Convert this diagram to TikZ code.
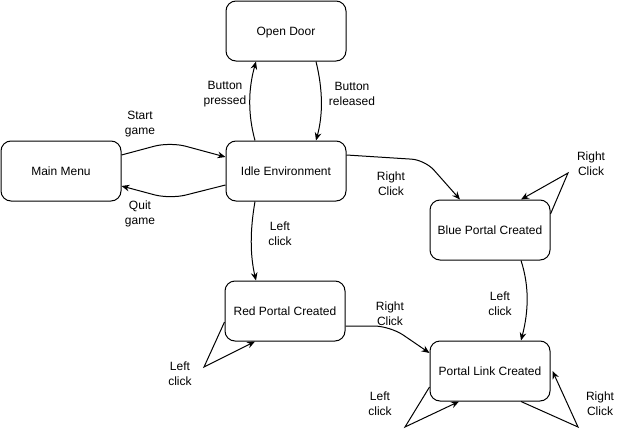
\documentclass[tikz,border=0pt]{standalone}
\usepackage{fontspec}
\setmainfont{Liberation Sans}
\usetikzlibrary{arrows.meta,calc}
\begin{document}
\begin{tikzpicture}[x=0.75pt,y=-0.75pt,
  state/.style={draw, line width=0.75pt, rounded corners=7.5pt, minimum width=90pt, minimum height=45pt, inner sep=0pt, text height=6.5pt, text depth=0.5pt, font=\fontsize{9pt}{11pt}\selectfont},
  lbl/.style={align=center, inner sep=0pt, yshift=-1.5pt, font=\fontsize{9pt}{11.25pt}\selectfont},
  arr/.style={draw, line width=0.75pt, -{Stealth[length=6pt,width=5pt,inset=2pt]}}]
\useasboundingbox (0,0) rectangle (621,439);
\node[state] (opendoor) at (286,31) {Open Door};
\node[state] (main) at (61,171) {Main Menu};
\node[state] (idle) at (286,171) {Idle Environment};
\node[state] (blue) at (490,230) {Blue Portal Created};
\node[state] (red) at (285,311) {Red Portal Created};
\node[state] (link) at (490,371) {Portal Link Created};
% connectors
\draw[arr, rounded corners=12pt] ($(main.east)+(0,-16)$) -- (170,142) -- ($(idle.west)+(0,-14)$);
\draw[arr, rounded corners=12pt] ($(idle.west)+(0,14)$) -- (170,199) -- ($(main.east)+(0,15)$);
\draw[arr] ($(idle.north)+(-31,0)$) .. controls (248,115) and (248,90) .. ($(opendoor.south)+(-30,0)$);
\draw[arr] ($(opendoor.south)+(30,0)$) .. controls (323,90) and (323,115) .. ($(idle.north)+(30,0)$);
\draw[arr, rounded corners=10pt] ($(idle.east)+(0,-16)$) -- (425,160) -- ($(blue.north)+(-30,0)$);
\draw[arr] ($(blue.east)+(0,-16)$) -- (568,173) -- ($(blue.north)+(31,0)$);
\draw[arr] ($(idle.south)+(-31,0)$) .. controls (250,230) and (250,255) .. ($(red.north)+(-29,0)$);
\draw[arr] ($(red.west)+(0,11)$) -- (204,367) -- ($(red.south)+(-30,0)$);
\draw[arr, rounded corners=12pt] ($(red.east)+(0,15)$) -- (390,326) -- ($(link.west)+(0,-18)$);
\draw[arr] ($(blue.south)+(31,0)$) .. controls (529,285) and (529,310) .. ($(link.north)+(31,0)$);
\draw[arr] ($(link.west)+(0,16)$) -- (405,427) -- ($(link.south)+(-31,0)$);
\draw[arr] ($(link.south)+(31,0)$) -- (578,427) -- ($(link.east)+(2,0)$);
% labels
\node[lbl] (l1) at (140,122) {Start\\game};
\node[lbl] (l2) at (140,212) {Quit\\game};
\node[lbl] (l3) at (225,92) {Button\\pressed};
\node[lbl] (l4) at (352,92) {Button\\released};
\node[lbl] (l5) at (391,182) {Right\\Click};
\node[lbl] (l6) at (591,162) {Right\\Click};
\node[lbl] (l7) at (280,232) {Left\\click};
\node[lbl] (l8) at (180,372) {Left\\click};
\node[lbl] (l9) at (390,312) {Right\\Click};
\node[lbl] (l10) at (500,302) {Left\\click};
\node[lbl] (l11) at (380,402) {Left\\click};
\node[lbl] (l12) at (600,402) {Right\\Click};
\end{tikzpicture}
\end{document}
